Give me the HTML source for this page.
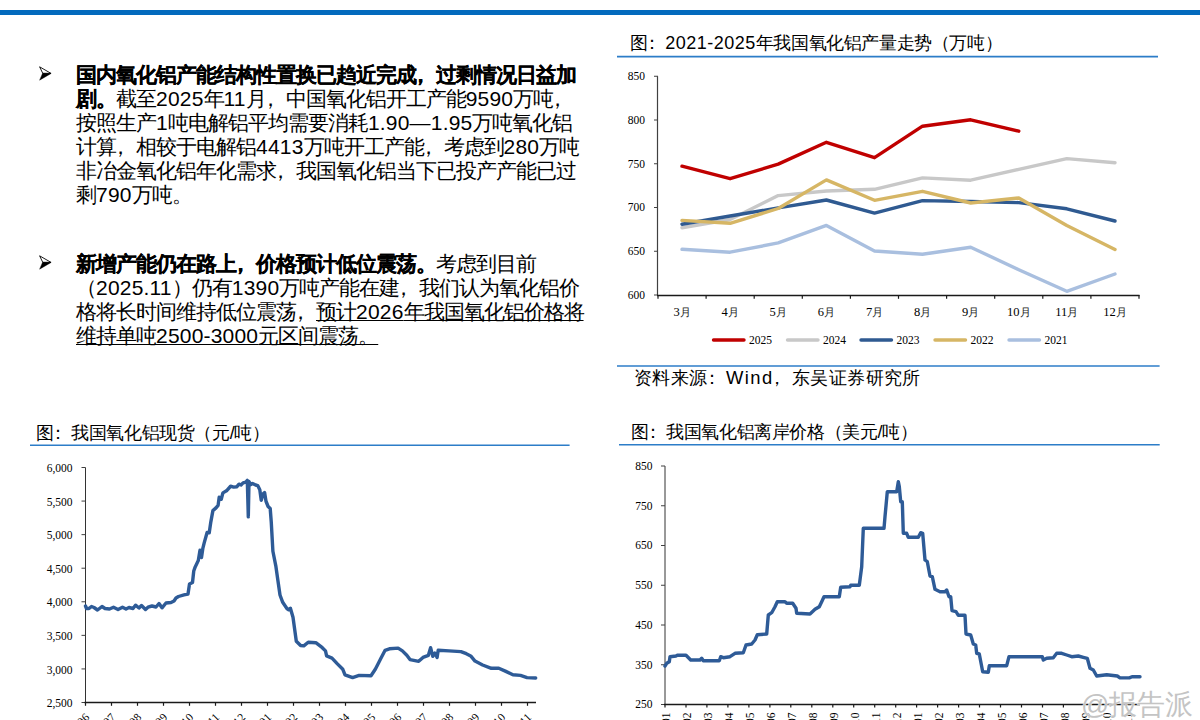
<!DOCTYPE html>
<html><head><meta charset="utf-8">
<style>
html,body{margin:0;padding:0;background:#fff;}
body{width:1200px;height:720px;overflow:hidden;position:relative;font-family:"Liberation Sans",sans-serif;color:#000;}
.topbar{position:absolute;left:0;top:10px;width:1200px;height:5px;background:#036abd;}
.txt{position:absolute;left:76px;width:520px;font-size:21px;line-height:24px;letter-spacing:-1px;}
.txt b{font-weight:bold;-webkit-text-stroke:0.2px #000;}
.ln{white-space:nowrap;height:24px;}
.fc{position:relative;left:-6px;}
.n{letter-spacing:0.2px;}
.arrow{position:absolute;width:13px;height:15px;}
.ttl{position:absolute;font-size:18px;letter-spacing:-0.4px;line-height:20px;white-space:nowrap;color:#000;}
.cl{position:relative;left:-5px;}
.lp{position:relative;left:0px;}
.src{font-size:18.4px;letter-spacing:0.4px;}
.src .n2{letter-spacing:1.4px;}
.n2{letter-spacing:0.5px;}
.u{text-decoration:underline;text-underline-offset:0.5px;text-decoration-thickness:1px;}
svg{position:absolute;left:0;top:0;}
.ax{font-family:"Liberation Serif",serif;font-size:11.5px;fill:#000;}
.axm{font-family:"Liberation Serif",serif;font-size:12.5px;fill:#000;}
</style></head><body>
<div class="topbar"></div>

<svg class="arrow" style="left:39px;top:66px" viewBox="0 0 13 15"><path d="M0.6 0.8 L12 7.4 L3.8 7.4 Z" fill="#fff" stroke="#000" stroke-width="0.9" stroke-linejoin="round"/><path d="M12.2 7.4 L0.6 14.2 L3.6 7.2 Z" fill="#000" stroke="#000" stroke-width="0.4" stroke-linejoin="round"/></svg>
<div class="txt" style="top:63px"><div class="ln"><b>国内氧化铝产能结构性置换已趋近完成<span class="fc">，</span>过剩情况日益加</b></div><div class="ln"><b>剧。</b>截至<span class="n">2025</span>年<span class="n">11</span>月<span class="fc">，</span>中国氧化铝开工产能<span class="n">9590</span>万吨<span class="fc">，</span></div><div class="ln">按照生产<span class="n">1</span>吨电解铝平均需要消耗<span class="n">1.90—1.95</span>万吨氧化铝</div><div class="ln">计算<span class="fc">，</span>相较于电解铝<span class="n">4413</span>万吨开工产能<span class="fc">，</span>考虑到<span class="n">280</span>万吨</div><div class="ln">非冶金氧化铝年化需求<span class="fc">，</span>我国氧化铝当下已投产产能已过</div><div class="ln">剩<span class="n">790</span>万吨。</div></div>

<svg class="arrow" style="left:39px;top:255px" viewBox="0 0 13 15"><path d="M0.6 0.8 L12 7.4 L3.8 7.4 Z" fill="#fff" stroke="#000" stroke-width="0.9" stroke-linejoin="round"/><path d="M12.2 7.4 L0.6 14.2 L3.6 7.2 Z" fill="#000" stroke="#000" stroke-width="0.4" stroke-linejoin="round"/></svg>
<div class="txt" style="top:252px"><div class="ln"><b>新增产能仍在路上<span class="fc">，</span>价格预计低位震荡。</b>考虑到目前</div><div class="ln">（<span class="n">2025.11</span>）仍有<span class="n">1390</span>万吨产能在建<span class="fc">，</span>我们认为氧化铝价</div><div class="ln">格将长时间维持低位震荡<span class="fc">，</span><span class="u">预计<span class="n">2026</span>年我国氧化铝价格将</span></div><div class="ln"><span class="u">维持单吨<span class="n">2500-3000</span>元区间震荡。</span></div></div>

<div class="ttl" style="left:630px;top:33px">图<span class="cl">：</span><span class="n2">2021-2025</span>年我国氧化铝产量走势<span class="lp">（</span>万吨）</div>
<div class="ttl src" style="left:634px;top:368px">资料来源<span class="cl">：</span><span class="n2">Wind</span><span class="fc">，</span>东吴证券研究所</div>
<div class="ttl" style="left:36px;top:423px">图<span class="cl">：</span>我国氧化铝现货<span class="lp">（</span>元/吨）</div>
<div class="ttl" style="left:631px;top:422px">图<span class="cl">：</span>我国氧化铝离岸价格<span class="lp">（</span>美元/吨）</div>

<svg width="1200" height="720" viewBox="0 0 1200 720">
<g stroke="#2c7dc8" stroke-width="1.6">
<line x1="617" y1="56.6" x2="1158" y2="56.6"/>
<line x1="617" y1="366" x2="1159.6" y2="366"/>
<line x1="30" y1="445.2" x2="569.6" y2="445.2"/>
<line x1="619" y1="444.8" x2="1159.7" y2="444.8"/>
</g>
<!--CHARTS-->
<g id="topchart">
<line x1="657.5" y1="76.25" x2="657.5" y2="295.0" stroke="#404040" stroke-width="1.2"/>
<line x1="654" y1="76.25" x2="658.0" y2="76.25" stroke="#404040" stroke-width="1"/>
<text x="645" y="80.2" text-anchor="end" class="ax">850</text>
<line x1="654" y1="120.00" x2="658.0" y2="120.00" stroke="#404040" stroke-width="1"/>
<text x="645" y="123.9" text-anchor="end" class="ax">800</text>
<line x1="654" y1="163.75" x2="658.0" y2="163.75" stroke="#404040" stroke-width="1"/>
<text x="645" y="167.7" text-anchor="end" class="ax">750</text>
<line x1="654" y1="207.50" x2="658.0" y2="207.50" stroke="#404040" stroke-width="1"/>
<text x="645" y="211.4" text-anchor="end" class="ax">700</text>
<line x1="654" y1="251.25" x2="658.0" y2="251.25" stroke="#404040" stroke-width="1"/>
<text x="645" y="255.2" text-anchor="end" class="ax">650</text>
<line x1="654" y1="295.00" x2="658.0" y2="295.00" stroke="#404040" stroke-width="1"/>
<text x="645" y="298.9" text-anchor="end" class="ax">600</text>
<line x1="657.0" y1="295.5" x2="1139.5" y2="295.5" stroke="#1a1a1a" stroke-width="1.5"/>
<line x1="658.0" y1="295.0" x2="658.0" y2="298.8" stroke="#1a1a1a" stroke-width="1.2"/>
<line x1="706.1" y1="295.0" x2="706.1" y2="298.8" stroke="#1a1a1a" stroke-width="1.2"/>
<line x1="754.2" y1="295.0" x2="754.2" y2="298.8" stroke="#1a1a1a" stroke-width="1.2"/>
<line x1="802.3" y1="295.0" x2="802.3" y2="298.8" stroke="#1a1a1a" stroke-width="1.2"/>
<line x1="850.4" y1="295.0" x2="850.4" y2="298.8" stroke="#1a1a1a" stroke-width="1.2"/>
<line x1="898.5" y1="295.0" x2="898.5" y2="298.8" stroke="#1a1a1a" stroke-width="1.2"/>
<line x1="946.6" y1="295.0" x2="946.6" y2="298.8" stroke="#1a1a1a" stroke-width="1.2"/>
<line x1="994.7" y1="295.0" x2="994.7" y2="298.8" stroke="#1a1a1a" stroke-width="1.2"/>
<line x1="1042.8" y1="295.0" x2="1042.8" y2="298.8" stroke="#1a1a1a" stroke-width="1.2"/>
<line x1="1090.9" y1="295.0" x2="1090.9" y2="298.8" stroke="#1a1a1a" stroke-width="1.2"/>
<line x1="1139.0" y1="295.0" x2="1139.0" y2="298.8" stroke="#1a1a1a" stroke-width="1.2"/>
<text x="682.0" y="315.5" text-anchor="middle" class="axm">3<tspan font-size="11.3" fill="#1a1a1a">月</tspan></text>
<text x="730.1" y="315.5" text-anchor="middle" class="axm">4<tspan font-size="11.3" fill="#1a1a1a">月</tspan></text>
<text x="778.2" y="315.5" text-anchor="middle" class="axm">5<tspan font-size="11.3" fill="#1a1a1a">月</tspan></text>
<text x="826.4" y="315.5" text-anchor="middle" class="axm">6<tspan font-size="11.3" fill="#1a1a1a">月</tspan></text>
<text x="874.5" y="315.5" text-anchor="middle" class="axm">7<tspan font-size="11.3" fill="#1a1a1a">月</tspan></text>
<text x="922.5" y="315.5" text-anchor="middle" class="axm">8<tspan font-size="11.3" fill="#1a1a1a">月</tspan></text>
<text x="970.7" y="315.5" text-anchor="middle" class="axm">9<tspan font-size="11.3" fill="#1a1a1a">月</tspan></text>
<text x="1018.8" y="315.5" text-anchor="middle" class="axm">10<tspan font-size="11.3" fill="#1a1a1a">月</tspan></text>
<text x="1066.8" y="315.5" text-anchor="middle" class="axm">11<tspan font-size="11.3" fill="#1a1a1a">月</tspan></text>
<text x="1115.0" y="315.5" text-anchor="middle" class="axm">12<tspan font-size="11.3" fill="#1a1a1a">月</tspan></text>
<polyline points="682.0,166.2 730.1,178.7 778.2,164.1 826.4,142.3 874.5,157.7 922.5,126.2 970.7,119.8 1018.8,131.2" fill="none" stroke="#c00000" stroke-width="3.4" stroke-linejoin="round" stroke-linecap="round"/>
<polyline points="682.0,227.7 730.1,219.5 778.2,195.6 826.4,191.0 874.5,189.3 922.5,177.9 970.7,180.2 1018.8,169.4 1066.8,158.6 1115.0,162.7" fill="none" stroke="#c8c8c8" stroke-width="3.4" stroke-linejoin="round" stroke-linecap="round"/>
<polyline points="682.0,224.2 730.1,216.0 778.2,207.9 826.4,200.0 874.5,213.1 922.5,200.6 970.7,201.5 1018.8,202.6 1066.8,208.8 1115.0,221.0" fill="none" stroke="#2f5a91" stroke-width="3.4" stroke-linejoin="round" stroke-linecap="round"/>
<polyline points="682.0,220.4 730.1,223.3 778.2,208.5 826.4,179.9 874.5,200.3 922.5,191.3 970.7,203.0 1018.8,198.0 1066.8,225.4 1115.0,249.6" fill="none" stroke="#d6b665" stroke-width="3.4" stroke-linejoin="round" stroke-linecap="round"/>
<polyline points="682.0,249.3 730.1,252.2 778.2,242.9 826.4,225.4 874.5,251.0 922.5,254.2 970.7,247.2 1018.8,269.7 1066.8,291.3 1115.0,274.0" fill="none" stroke="#a9bfdf" stroke-width="3.4" stroke-linejoin="round" stroke-linecap="round"/>
<line x1="713.5" y1="340" x2="744" y2="340" stroke="#c00000" stroke-width="3.4" stroke-linecap="round"/>
<text x="749" y="344" class="ax">2025</text>
<line x1="787.5" y1="340" x2="818" y2="340" stroke="#c8c8c8" stroke-width="3.4" stroke-linecap="round"/>
<text x="823" y="344" class="ax">2024</text>
<line x1="861.0" y1="340" x2="891.5" y2="340" stroke="#2f5a91" stroke-width="3.4" stroke-linecap="round"/>
<text x="896.5" y="344" class="ax">2023</text>
<line x1="935.0" y1="340" x2="965.5" y2="340" stroke="#d6b665" stroke-width="3.4" stroke-linecap="round"/>
<text x="970.5" y="344" class="ax">2022</text>
<line x1="1009.0" y1="340" x2="1039.5" y2="340" stroke="#a9bfdf" stroke-width="3.4" stroke-linecap="round"/>
<text x="1044.5" y="344" class="ax">2021</text>
</g>
<g id="blchart">
<line x1="85.5" y1="467.5" x2="85.5" y2="702.5" stroke="#333" stroke-width="1"/>
<line x1="81.5" y1="467.50" x2="85.5" y2="467.50" stroke="#404040" stroke-width="1"/>
<text x="72.5" y="472.1" text-anchor="end" class="ax">6,000</text>
<line x1="81.5" y1="501.07" x2="85.5" y2="501.07" stroke="#404040" stroke-width="1"/>
<text x="72.5" y="505.7" text-anchor="end" class="ax">5,500</text>
<line x1="81.5" y1="534.64" x2="85.5" y2="534.64" stroke="#404040" stroke-width="1"/>
<text x="72.5" y="539.2" text-anchor="end" class="ax">5,000</text>
<line x1="81.5" y1="568.21" x2="85.5" y2="568.21" stroke="#404040" stroke-width="1"/>
<text x="72.5" y="572.8" text-anchor="end" class="ax">4,500</text>
<line x1="81.5" y1="601.79" x2="85.5" y2="601.79" stroke="#404040" stroke-width="1"/>
<text x="72.5" y="606.4" text-anchor="end" class="ax">4,000</text>
<line x1="81.5" y1="635.36" x2="85.5" y2="635.36" stroke="#404040" stroke-width="1"/>
<text x="72.5" y="640.0" text-anchor="end" class="ax">3,500</text>
<line x1="81.5" y1="668.93" x2="85.5" y2="668.93" stroke="#404040" stroke-width="1"/>
<text x="72.5" y="673.5" text-anchor="end" class="ax">3,000</text>
<line x1="81.5" y1="702.50" x2="85.5" y2="702.50" stroke="#404040" stroke-width="1"/>
<text x="72.5" y="707.1" text-anchor="end" class="ax">2,500</text>
<line x1="84.5" y1="702.5" x2="536" y2="702.5" stroke="#1a1a1a" stroke-width="1.5"/>
<line x1="85.5" y1="702.5" x2="85.5" y2="705.8" stroke="#1a1a1a" stroke-width="1.2"/>
<text transform="translate(90.0,718) rotate(-45)" text-anchor="end" class="ax">2024-06</text>
<line x1="111.5" y1="702.5" x2="111.5" y2="705.8" stroke="#1a1a1a" stroke-width="1.2"/>
<text transform="translate(116.0,718) rotate(-45)" text-anchor="end" class="ax">2024-07</text>
<line x1="137.5" y1="702.5" x2="137.5" y2="705.8" stroke="#1a1a1a" stroke-width="1.2"/>
<text transform="translate(142.0,718) rotate(-45)" text-anchor="end" class="ax">2024-08</text>
<line x1="163.5" y1="702.5" x2="163.5" y2="705.8" stroke="#1a1a1a" stroke-width="1.2"/>
<text transform="translate(168.0,718) rotate(-45)" text-anchor="end" class="ax">2024-09</text>
<line x1="189.5" y1="702.5" x2="189.5" y2="705.8" stroke="#1a1a1a" stroke-width="1.2"/>
<text transform="translate(194.0,718) rotate(-45)" text-anchor="end" class="ax">2024-10</text>
<line x1="215.5" y1="702.5" x2="215.5" y2="705.8" stroke="#1a1a1a" stroke-width="1.2"/>
<text transform="translate(220.0,718) rotate(-45)" text-anchor="end" class="ax">2024-11</text>
<line x1="241.5" y1="702.5" x2="241.5" y2="705.8" stroke="#1a1a1a" stroke-width="1.2"/>
<text transform="translate(246.0,718) rotate(-45)" text-anchor="end" class="ax">2024-12</text>
<line x1="267.5" y1="702.5" x2="267.5" y2="705.8" stroke="#1a1a1a" stroke-width="1.2"/>
<text transform="translate(272.0,718) rotate(-45)" text-anchor="end" class="ax">2025-01</text>
<line x1="293.5" y1="702.5" x2="293.5" y2="705.8" stroke="#1a1a1a" stroke-width="1.2"/>
<text transform="translate(298.0,718) rotate(-45)" text-anchor="end" class="ax">2025-02</text>
<line x1="319.5" y1="702.5" x2="319.5" y2="705.8" stroke="#1a1a1a" stroke-width="1.2"/>
<text transform="translate(324.0,718) rotate(-45)" text-anchor="end" class="ax">2025-03</text>
<line x1="345.5" y1="702.5" x2="345.5" y2="705.8" stroke="#1a1a1a" stroke-width="1.2"/>
<text transform="translate(350.0,718) rotate(-45)" text-anchor="end" class="ax">2025-04</text>
<line x1="371.5" y1="702.5" x2="371.5" y2="705.8" stroke="#1a1a1a" stroke-width="1.2"/>
<text transform="translate(376.0,718) rotate(-45)" text-anchor="end" class="ax">2025-05</text>
<line x1="397.5" y1="702.5" x2="397.5" y2="705.8" stroke="#1a1a1a" stroke-width="1.2"/>
<text transform="translate(402.0,718) rotate(-45)" text-anchor="end" class="ax">2025-06</text>
<line x1="423.5" y1="702.5" x2="423.5" y2="705.8" stroke="#1a1a1a" stroke-width="1.2"/>
<text transform="translate(428.0,718) rotate(-45)" text-anchor="end" class="ax">2025-07</text>
<line x1="449.5" y1="702.5" x2="449.5" y2="705.8" stroke="#1a1a1a" stroke-width="1.2"/>
<text transform="translate(454.0,718) rotate(-45)" text-anchor="end" class="ax">2025-08</text>
<line x1="475.5" y1="702.5" x2="475.5" y2="705.8" stroke="#1a1a1a" stroke-width="1.2"/>
<text transform="translate(480.0,718) rotate(-45)" text-anchor="end" class="ax">2025-09</text>
<line x1="501.5" y1="702.5" x2="501.5" y2="705.8" stroke="#1a1a1a" stroke-width="1.2"/>
<text transform="translate(506.0,718) rotate(-45)" text-anchor="end" class="ax">2025-10</text>
<line x1="527.5" y1="702.5" x2="527.5" y2="705.8" stroke="#1a1a1a" stroke-width="1.2"/>
<text transform="translate(532.0,718) rotate(-45)" text-anchor="end" class="ax">2025-11</text>
<polyline points="85.5,606 86.5,608.5 89,608.5 91.5,606.5 94,607.5 97.5,610 102,606.5 105,608.5 109.5,609 113.5,607.2 118,609.5 122.5,607.2 126,609 129,607.5 133,608.5 135.5,605.2 139,608 141.5,605.5 145.5,609.5 148,607.2 152,606 156,607 159,603.5 162,607.8 166,603 171,602.5 174,601 176,598 178.5,596.5 184,594.8 188,594 189.5,584 192.5,582.5 193.75,571 195.2,566.9 198.3,560.6 200,550.2 201.5,557.5 202.9,548.1 204.2,542.9 207.1,532.5 209.2,532.9 210.8,522.1 212.9,510.6 216,507.9 218.1,505.4 219.2,497.1 221.25,499.2 222.9,492.9 226.5,490.8 230.6,486.25 233.75,487.1 236.9,486.7 239,484.2 241,485 243.1,482.9 245.8,482.1 247.3,480.4 248.3,516.9 249,481.5 250.8,484.6 252.5,483.5 255.6,485 257.7,485.6 259.8,489.8 261.25,500.2 262.9,494 264.6,492.5 266,501.25 268.1,506.5 270.2,508.5 271.25,522 272.9,551.25 275.8,565.8 277.9,580.4 280,595 282.7,602.3 286.9,608.5 288.7,609.8 290.4,608.2 293,617.3 296.3,641.2 300.6,645.5 303.8,645.9 308.2,642.3 315.8,642.7 322.3,647.7 325.5,650.9 326.6,655.9 332,658.1 337.4,663.9 342.8,669.3 345,674.8 352.6,677.6 359.1,675.4 371,675.8 375.3,669.3 377.5,665 380.8,658.5 385.1,650.3 389.4,648.8 398.1,648.1 402.4,650.9 406.8,655.3 410,659.6 418.7,661.3 423,657.4 428.4,655.3 430.6,647.7 432.8,656.3 434.9,653.1 437.1,657.4 438.2,650.3 449,650.9 460.9,651.6 466.3,653.7 470.7,655.9 475,661.1 482.6,665 491.3,668.3 498.8,668.3 505.3,671.1 512.9,674.8 520.5,675.4 527,677.6 535.7,678" fill="none" stroke="#2e5b97" stroke-width="3.4" stroke-linejoin="round" stroke-linecap="round"/>
</g>
<g id="brchart">
<line x1="665" y1="466" x2="665" y2="704.5" stroke="#333" stroke-width="1"/>
<line x1="661" y1="466.00" x2="665" y2="466.00" stroke="#404040" stroke-width="1"/>
<text x="652.5" y="469.9" text-anchor="end" class="ax">850</text>
<line x1="661" y1="505.75" x2="665" y2="505.75" stroke="#404040" stroke-width="1"/>
<text x="652.5" y="509.6" text-anchor="end" class="ax">750</text>
<line x1="661" y1="545.50" x2="665" y2="545.50" stroke="#404040" stroke-width="1"/>
<text x="652.5" y="549.4" text-anchor="end" class="ax">650</text>
<line x1="661" y1="585.25" x2="665" y2="585.25" stroke="#404040" stroke-width="1"/>
<text x="652.5" y="589.1" text-anchor="end" class="ax">550</text>
<line x1="661" y1="625.00" x2="665" y2="625.00" stroke="#404040" stroke-width="1"/>
<text x="652.5" y="628.9" text-anchor="end" class="ax">450</text>
<line x1="661" y1="664.75" x2="665" y2="664.75" stroke="#404040" stroke-width="1"/>
<text x="652.5" y="668.6" text-anchor="end" class="ax">350</text>
<line x1="661" y1="704.50" x2="665" y2="704.50" stroke="#404040" stroke-width="1"/>
<text x="652.5" y="708.4" text-anchor="end" class="ax">250</text>
<line x1="664" y1="704.5" x2="1140" y2="704.5" stroke="#1a1a1a" stroke-width="1.5"/>
<line x1="665.0" y1="704.5" x2="665.0" y2="707.5" stroke="#1a1a1a" stroke-width="1.2"/>
<text transform="translate(670.2,712.5) rotate(-90)" text-anchor="end" class="ax">2024-01</text>
<line x1="686.0" y1="704.5" x2="686.0" y2="707.5" stroke="#1a1a1a" stroke-width="1.2"/>
<text transform="translate(691.2,712.5) rotate(-90)" text-anchor="end" class="ax">2024-02</text>
<line x1="706.9" y1="704.5" x2="706.9" y2="707.5" stroke="#1a1a1a" stroke-width="1.2"/>
<text transform="translate(712.1,712.5) rotate(-90)" text-anchor="end" class="ax">2024-03</text>
<line x1="727.9" y1="704.5" x2="727.9" y2="707.5" stroke="#1a1a1a" stroke-width="1.2"/>
<text transform="translate(733.1,712.5) rotate(-90)" text-anchor="end" class="ax">2024-04</text>
<line x1="748.9" y1="704.5" x2="748.9" y2="707.5" stroke="#1a1a1a" stroke-width="1.2"/>
<text transform="translate(754.1,712.5) rotate(-90)" text-anchor="end" class="ax">2024-05</text>
<line x1="769.9" y1="704.5" x2="769.9" y2="707.5" stroke="#1a1a1a" stroke-width="1.2"/>
<text transform="translate(775.1,712.5) rotate(-90)" text-anchor="end" class="ax">2024-06</text>
<line x1="790.8" y1="704.5" x2="790.8" y2="707.5" stroke="#1a1a1a" stroke-width="1.2"/>
<text transform="translate(796.0,712.5) rotate(-90)" text-anchor="end" class="ax">2024-07</text>
<line x1="811.8" y1="704.5" x2="811.8" y2="707.5" stroke="#1a1a1a" stroke-width="1.2"/>
<text transform="translate(817.0,712.5) rotate(-90)" text-anchor="end" class="ax">2024-08</text>
<line x1="832.8" y1="704.5" x2="832.8" y2="707.5" stroke="#1a1a1a" stroke-width="1.2"/>
<text transform="translate(838.0,712.5) rotate(-90)" text-anchor="end" class="ax">2024-09</text>
<line x1="853.7" y1="704.5" x2="853.7" y2="707.5" stroke="#1a1a1a" stroke-width="1.2"/>
<text transform="translate(858.9,712.5) rotate(-90)" text-anchor="end" class="ax">2024-10</text>
<line x1="874.7" y1="704.5" x2="874.7" y2="707.5" stroke="#1a1a1a" stroke-width="1.2"/>
<text transform="translate(879.9,712.5) rotate(-90)" text-anchor="end" class="ax">2024-11</text>
<line x1="895.7" y1="704.5" x2="895.7" y2="707.5" stroke="#1a1a1a" stroke-width="1.2"/>
<text transform="translate(900.9,712.5) rotate(-90)" text-anchor="end" class="ax">2024-12</text>
<line x1="916.6" y1="704.5" x2="916.6" y2="707.5" stroke="#1a1a1a" stroke-width="1.2"/>
<text transform="translate(921.8,712.5) rotate(-90)" text-anchor="end" class="ax">2025-01</text>
<line x1="937.6" y1="704.5" x2="937.6" y2="707.5" stroke="#1a1a1a" stroke-width="1.2"/>
<text transform="translate(942.8,712.5) rotate(-90)" text-anchor="end" class="ax">2025-02</text>
<line x1="958.6" y1="704.5" x2="958.6" y2="707.5" stroke="#1a1a1a" stroke-width="1.2"/>
<text transform="translate(963.8,712.5) rotate(-90)" text-anchor="end" class="ax">2025-03</text>
<line x1="979.5" y1="704.5" x2="979.5" y2="707.5" stroke="#1a1a1a" stroke-width="1.2"/>
<text transform="translate(984.8,712.5) rotate(-90)" text-anchor="end" class="ax">2025-04</text>
<line x1="1000.5" y1="704.5" x2="1000.5" y2="707.5" stroke="#1a1a1a" stroke-width="1.2"/>
<text transform="translate(1005.7,712.5) rotate(-90)" text-anchor="end" class="ax">2025-05</text>
<line x1="1021.5" y1="704.5" x2="1021.5" y2="707.5" stroke="#1a1a1a" stroke-width="1.2"/>
<text transform="translate(1026.7,712.5) rotate(-90)" text-anchor="end" class="ax">2025-06</text>
<line x1="1042.5" y1="704.5" x2="1042.5" y2="707.5" stroke="#1a1a1a" stroke-width="1.2"/>
<text transform="translate(1047.7,712.5) rotate(-90)" text-anchor="end" class="ax">2025-07</text>
<line x1="1063.4" y1="704.5" x2="1063.4" y2="707.5" stroke="#1a1a1a" stroke-width="1.2"/>
<text transform="translate(1068.6,712.5) rotate(-90)" text-anchor="end" class="ax">2025-08</text>
<line x1="1084.4" y1="704.5" x2="1084.4" y2="707.5" stroke="#1a1a1a" stroke-width="1.2"/>
<text transform="translate(1089.6,712.5) rotate(-90)" text-anchor="end" class="ax">2025-09</text>
<line x1="1105.4" y1="704.5" x2="1105.4" y2="707.5" stroke="#1a1a1a" stroke-width="1.2"/>
<text transform="translate(1110.6,712.5) rotate(-90)" text-anchor="end" class="ax">2025-10</text>
<line x1="1126.3" y1="704.5" x2="1126.3" y2="707.5" stroke="#1a1a1a" stroke-width="1.2"/>
<text transform="translate(1131.5,712.5) rotate(-90)" text-anchor="end" class="ax">2025-11</text>
<polyline points="665,666 666.7,663.3 669.3,661.7 670,656.7 676,656 677.3,655.3 686,655.3 690.7,660 700,660 701.7,658.3 703.3,660.7 719.3,660.7 720.7,656.7 723.3,657.7 730,656.7 735,653.3 743.3,652.7 746,645 751.7,644 755,640 757.3,634.7 766.7,634 768.3,615 771.7,612.7 775,606.7 777.3,601.7 785,601.7 786.7,603.3 792.7,603.3 796,608.3 796.7,613.3 810,614 815,609.3 819.3,606.7 821.7,601.7 824,596.7 839.3,596.7 840.7,587.3 850,586.7 850.7,585.3 859.3,585.3 861.7,566.7 863.3,528.3 884,528.3 885,516.7 887.3,491.7 896.7,491.7 898.3,481.7 899.3,486.7 900.7,501.7 902.3,501.7 903.3,533.3 906.7,533.3 908.3,537.3 918.3,537.3 920.7,532.7 922.7,533.3 925,560 927.3,561.7 930,576 932.3,576.7 935,589.3 940,591.7 945,591.7 946.7,590 949,596.7 950.7,596.7 952,610.7 956,611.7 958.3,615.3 965,615.3 966,634 970.7,635 973.3,644 975.7,645 976.7,653.3 979.3,654 982.7,671.7 988.3,672.3 989.3,665.7 1006.7,665.7 1009,656.7 1042.3,656.7 1043.3,660 1046.7,658.3 1053.3,657.7 1056.7,653.3 1061.7,653.3 1066.7,655 1071.7,656.7 1078.3,656 1083.3,657.3 1087.3,658.3 1090,668.3 1093.3,670 1096.7,676 1106.7,674.7 1117.3,676 1120,677.9 1129.3,677.9 1132,676.8 1140,676.8" fill="none" stroke="#2e5b97" stroke-width="3.4" stroke-linejoin="round" stroke-linecap="round"/>
</g>
<!--/CHARTS-->
<text x="1081" y="714" font-family="Liberation Sans, sans-serif" font-size="28" fill="#c4c4c4" stroke="#fff" stroke-width="1.2" stroke-opacity="0.8" paint-order="stroke" id="wm">@报告派</text>
</svg>
</body></html>
